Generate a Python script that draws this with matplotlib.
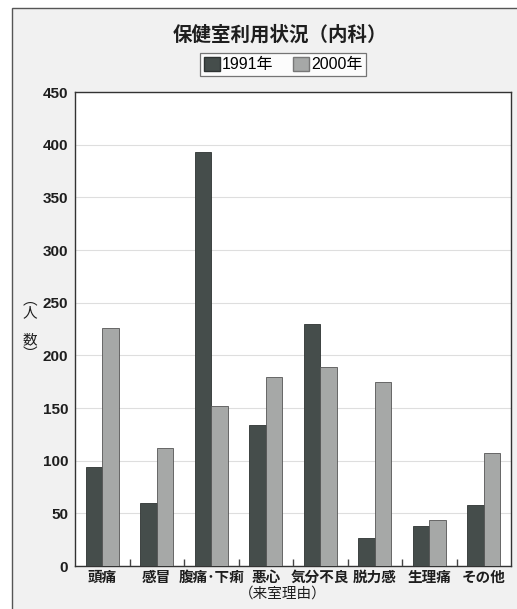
import matplotlib
matplotlib.use("Agg")
import matplotlib.pyplot as plt
import matplotlib.patches as mpatches
import numpy as np

plt.rcParams['font.family'] = ['Noto Sans CJK JP', 'DejaVu Sans']

categories = ["頭痛", "感冒", "腹痛･下痢", "悪心", "気分不良", "脱力感", "生理痛", "その他"]
series_names = ["1991年", "2000年"]
values_1991 = [94, 60, 393, 134, 230, 27, 38, 58]
values_2000 = [226, 112, 152, 179, 189, 175, 44, 107]
yticks = [0, 50, 100, 150, 200, 250, 300, 350, 400, 450]

color_1991 = "#454d4b"
color_2000 = "#a6a8a7"
frame_bg = "#f1f1f1"
text_color = "#1e1e1e"

W, H = 517, 609
fig = plt.figure(figsize=(W / 100, H / 100), dpi=100)
fig.patch.set_facecolor("white")

# light gray panel with a thin border behind the chart
panel = mpatches.Rectangle((12 / W, -0.01), 1 - 12 / W + 0.01, 1 - 8 / H + 0.01,
                           transform=fig.transFigure, facecolor=frame_bg,
                           edgecolor="#555555", linewidth=1.0, zorder=-10)
fig.patches.append(panel)

left, right, top, bottom = 75, 511, 92, 566
ax = fig.add_axes([left / W, 1 - bottom / H, (right - left) / W, (bottom - top) / H])
ax.set_zorder(1)
ax.set_facecolor("white")

x = np.arange(len(categories))
bw = 0.3
ax.bar(x - bw / 2, values_1991, bw, color=color_1991, edgecolor="#2e3332",
       linewidth=0.6, label=series_names[0], zorder=3)
ax.bar(x + bw / 2, values_2000, bw, color=color_2000, edgecolor="#555555",
       linewidth=0.6, label=series_names[1], zorder=3)

ax.set_xlim(-0.5, len(categories) - 0.5)
ax.set_ylim(0, 450)
ax.set_yticks(yticks)
ax.set_yticklabels([str(v) for v in yticks], fontsize=11, fontweight="bold",
                   family=['Liberation Sans', 'DejaVu Sans'], color=text_color)
ax.tick_params(axis='y', length=0, pad=5)
ax.set_xticks(x)
ax.set_xticklabels(categories, fontsize=10.5, fontweight="bold", color=text_color)
ax.tick_params(axis='x', length=0, pad=2)
ax.set_xticks(np.arange(0.5, len(categories) - 0.5, 1), minor=True)
ax.tick_params(axis='x', which='minor', direction='in', length=5, width=1, color="#444444")

ax.yaxis.grid(True, color="#dedede", linewidth=0.8, zorder=0)
ax.set_axisbelow(True)
for s in ax.spines.values():
    s.set_color("#333333")
    s.set_linewidth(1.0)

fig.text(280 / W, 1 - 35 / H, "保健室利用状況（内科）", ha="center", va="center",
         fontsize=14, fontweight="bold", color=text_color)

handles = [mpatches.Patch(facecolor=color_1991, edgecolor="#2e3332"),
           mpatches.Patch(facecolor=color_2000, edgecolor="#777777")]
leg = fig.legend(handles, series_names, loc="center", bbox_to_anchor=(283 / W, 1 - 64.5 / H),
                 ncol=2, frameon=True, fancybox=False,
                 prop={'family': ['Liberation Sans', 'Noto Sans CJK JP'], 'size': 11.5},
                 handlelength=1.0, handleheight=1.0, handletextpad=0.15,
                 columnspacing=1.2, borderpad=0.25)
leg.get_frame().set_edgecolor("#555555")
leg.get_frame().set_linewidth(0.9)
leg.get_frame().set_facecolor("white")

fig.text(30 / W, 1 - 327 / H, "︵\n人\n\n数\n︶", ha="center", va="center",
         fontsize=10.5, linespacing=0.95, color=text_color)
fig.text(283 / W, 1 - 594 / H, "（来室理由）", ha="center", va="center",
         fontsize=10.5, color=text_color)

fig.savefig("out.png", dpi=100, facecolor=fig.get_facecolor())
